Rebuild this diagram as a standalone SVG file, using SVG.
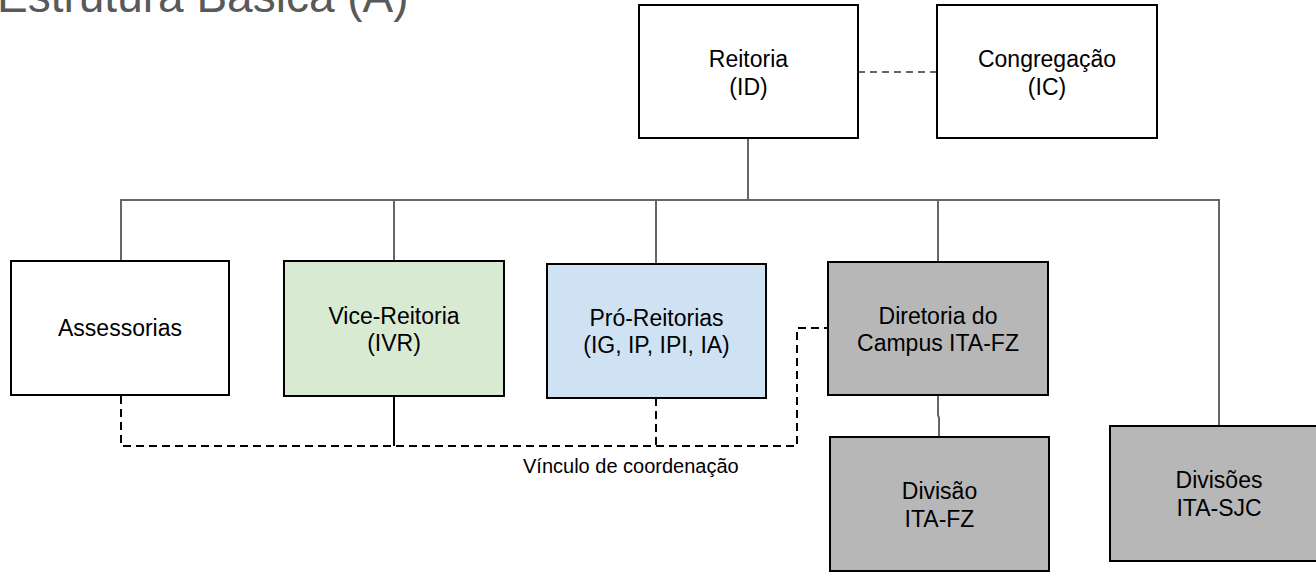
<svg xmlns="http://www.w3.org/2000/svg" width="1316" height="572" viewBox="0 0 1316 572">
<style>
  text { font-family: "Liberation Sans", Arial, sans-serif; }
  .node { stroke: #000; stroke-width: 2; }
  .lbl { font-size: 23px; fill: #000; text-anchor: middle; }
  .tree { fill: none; stroke: #666; stroke-width: 2; }
  .coord { fill: none; stroke: #000; stroke-width: 2; stroke-dasharray: 8 5; }
  .solid { fill: none; stroke: #000; stroke-width: 2; }
  .peer { fill: none; stroke: #666; stroke-width: 2; stroke-dasharray: 7 5; }
</style>
<rect width="1316" height="572" fill="#fff"/>
<text x="-3" y="12" font-size="46" fill="#595959">Estrutura Básica (A)</text>

<g id="connectors">
  <polyline class="tree" points="748,138 748,200 121,200 121,261"/>
  <polyline class="tree" points="748,200 394,200 394,261"/>
  <polyline class="tree" points="748,200 656,200 656,264"/>
  <polyline class="tree" points="748,200 938,200 938,262"/>
  <polyline class="tree" points="938,200 1219,200 1219,426"/>
  <polyline class="tree" points="938,395 938,415 939,418 939,437"/>
  <line class="peer" x1="858" y1="72" x2="937" y2="72"/>
  <polyline class="coord" points="121,396 121,446 797,446 797,328 828,328"/>
  <line class="coord" x1="656" y1="398" x2="656" y2="446"/>
  <line class="solid" x1="394" y1="396" x2="394" y2="446"/>
</g>

<g id="reitoria">
  <rect class="node" x="639" y="5" width="219" height="133" fill="#fff"/>
  <text class="lbl" x="748.5" y="67">Reitoria</text>
  <text class="lbl" x="748.5" y="95">(ID)</text>
</g>
<g id="congregacao">
  <rect class="node" x="937" y="5" width="220" height="133" fill="#fff"/>
  <text class="lbl" x="1047" y="67">Congregação</text>
  <text class="lbl" x="1047" y="95">(IC)</text>
</g>
<g id="assessorias">
  <rect class="node" x="11" y="261" width="218" height="134" fill="#fff"/>
  <text class="lbl" x="120" y="336">Assessorias</text>
</g>
<g id="vice-reitoria">
  <rect class="node" x="284" y="261" width="220" height="135" fill="#d9ead3"/>
  <text class="lbl" x="394" y="324">Vice-Reitoria</text>
  <text class="lbl" x="394" y="351">(IVR)</text>
</g>
<g id="pro-reitorias">
  <rect class="node" x="547" y="264" width="219" height="134" fill="#cfe2f3"/>
  <text class="lbl" x="656.5" y="326">Pró-Reitorias</text>
  <text class="lbl" x="656.5" y="353">(IG, IP, IPI, IA)</text>
</g>
<g id="diretoria">
  <rect class="node" x="828" y="262" width="220" height="133" fill="#b7b7b7"/>
  <text class="lbl" x="938" y="324">Diretoria do</text>
  <text class="lbl" x="938" y="351">Campus ITA-FZ</text>
</g>
<g id="divisao-fz">
  <rect class="node" x="830" y="437" width="219" height="134" fill="#b7b7b7"/>
  <text class="lbl" x="939.5" y="499">Divisão</text>
  <text class="lbl" x="939.5" y="527">ITA-FZ</text>
</g>
<g id="divisoes-sjc">
  <rect class="node" x="1110" y="426" width="220" height="135" fill="#b7b7b7"/>
  <text class="lbl" x="1219" y="488">Divisões</text>
  <text class="lbl" x="1219" y="516">ITA-SJC</text>
</g>
<text x="523" y="473" font-size="20" fill="#000">Vínculo de coordenação</text>
</svg>
